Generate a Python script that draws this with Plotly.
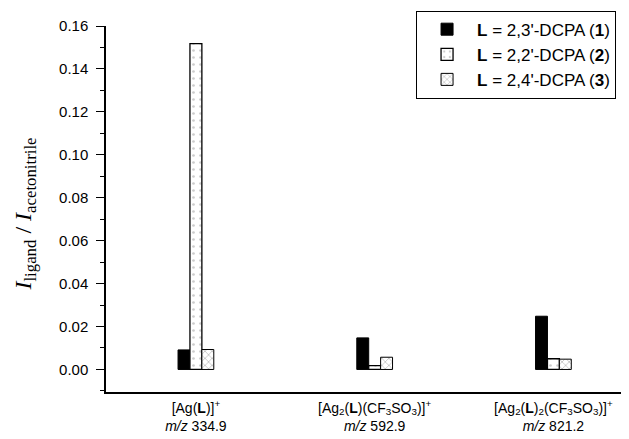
import plotly.graph_objects as go

categories = [
    "[Ag(<b>L</b>)]<sup>+</sup><br><i>m/z</i> 334.9",
    "[Ag<sub>2</sub>(<b>L</b>)(CF<sub>3</sub>SO<sub>3</sub>)]<sup>+</sup><br><i>m/z</i> 592.9",
    "[Ag<sub>2</sub>(<b>L</b>)<sub>2</sub>(CF<sub>3</sub>SO<sub>3</sub>)]<sup>+</sup><br><i>m/z</i> 821.2",
]
series_names = [
    "<b>L</b> = 2,3'-DCPA (<b>1</b>)",
    "<b>L</b> = 2,2'-DCPA (<b>2</b>)",
    "<b>L</b> = 2,4'-DCPA (<b>3</b>)",
]
dcpa_23 = [0.0091, 0.0147, 0.0248]
dcpa_22 = [0.1518, 0.0018, 0.0050]
dcpa_24 = [0.0093, 0.0057, 0.0048]
y_ticks = [0.00, 0.02, 0.04, 0.06, 0.08, 0.10, 0.12, 0.14, 0.16]

fig = go.Figure()
fig.add_trace(go.Bar(
    x=categories, y=dcpa_23, name=series_names[0],
    marker=dict(color="black", line=dict(color="black", width=1)),
))
fig.add_trace(go.Bar(
    x=categories, y=dcpa_22, name=series_names[1],
    marker=dict(color="white", line=dict(color="black", width=1.3),
                pattern=dict(shape=".", fgcolor="#9a9a9a", bgcolor="white",
                             size=7, solidity=0.12)),
))
fig.add_trace(go.Bar(
    x=categories, y=dcpa_24, name=series_names[2],
    marker=dict(color="white", line=dict(color="black", width=1),
                pattern=dict(shape="x", fgcolor="black", bgcolor="white",
                             size=5, solidity=0.15)),
))

fig.update_layout(
    width=629, height=439,
    margin=dict(l=98, r=1, t=18, b=55),
    paper_bgcolor="white", plot_bgcolor="white",
    barmode="group", bargap=0.8, bargroupgap=0,
    font=dict(family="Liberation Sans, Arial, sans-serif", size=14, color="black"),
    showlegend=True,
    legend=dict(
        x=0.585, xanchor="left", y=1.042, yanchor="top",
        bordercolor="black", borderwidth=1, bgcolor="white",
        font=dict(size=17, family="Liberation Sans, Arial, sans-serif"),
        tracegroupgap=0, itemwidth=50,
    ),
    xaxis=dict(
        type="category", range=[-0.503, 2.462],
        showline=True, linecolor="black", linewidth=1.5,
        ticks="", showgrid=False, zeroline=False,
        tickfont=dict(size=14), ticklabelstandoff=2,
    ),
    yaxis=dict(
        range=[-0.0105, 0.16], tickvals=y_ticks, tickformat=".2f",
        showline=True, linecolor="black", linewidth=1.5,
        ticks="outside", ticklen=8, tickwidth=1.3, tickcolor="black",
        minor=dict(dtick=0.01, ticks="outside", ticklen=4, tickwidth=1.3, tickcolor="black"),
        showgrid=False, zeroline=False, tickfont=dict(size=15),
        ticklabelstandoff=5,
    ),
    annotations=[dict(
        text="<i>I</i><sub>ligand</sub> / <i>I</i><sub>acetonitrile</sub>",
        xref="paper", yref="paper", x=-0.152, y=0.486,
        xanchor="center", yanchor="middle",
        textangle=-90, showarrow=False,
        font=dict(family="Liberation Serif, Times New Roman, serif", size=24, color="black"),
    )],
)

fig.write_html("out.html")
